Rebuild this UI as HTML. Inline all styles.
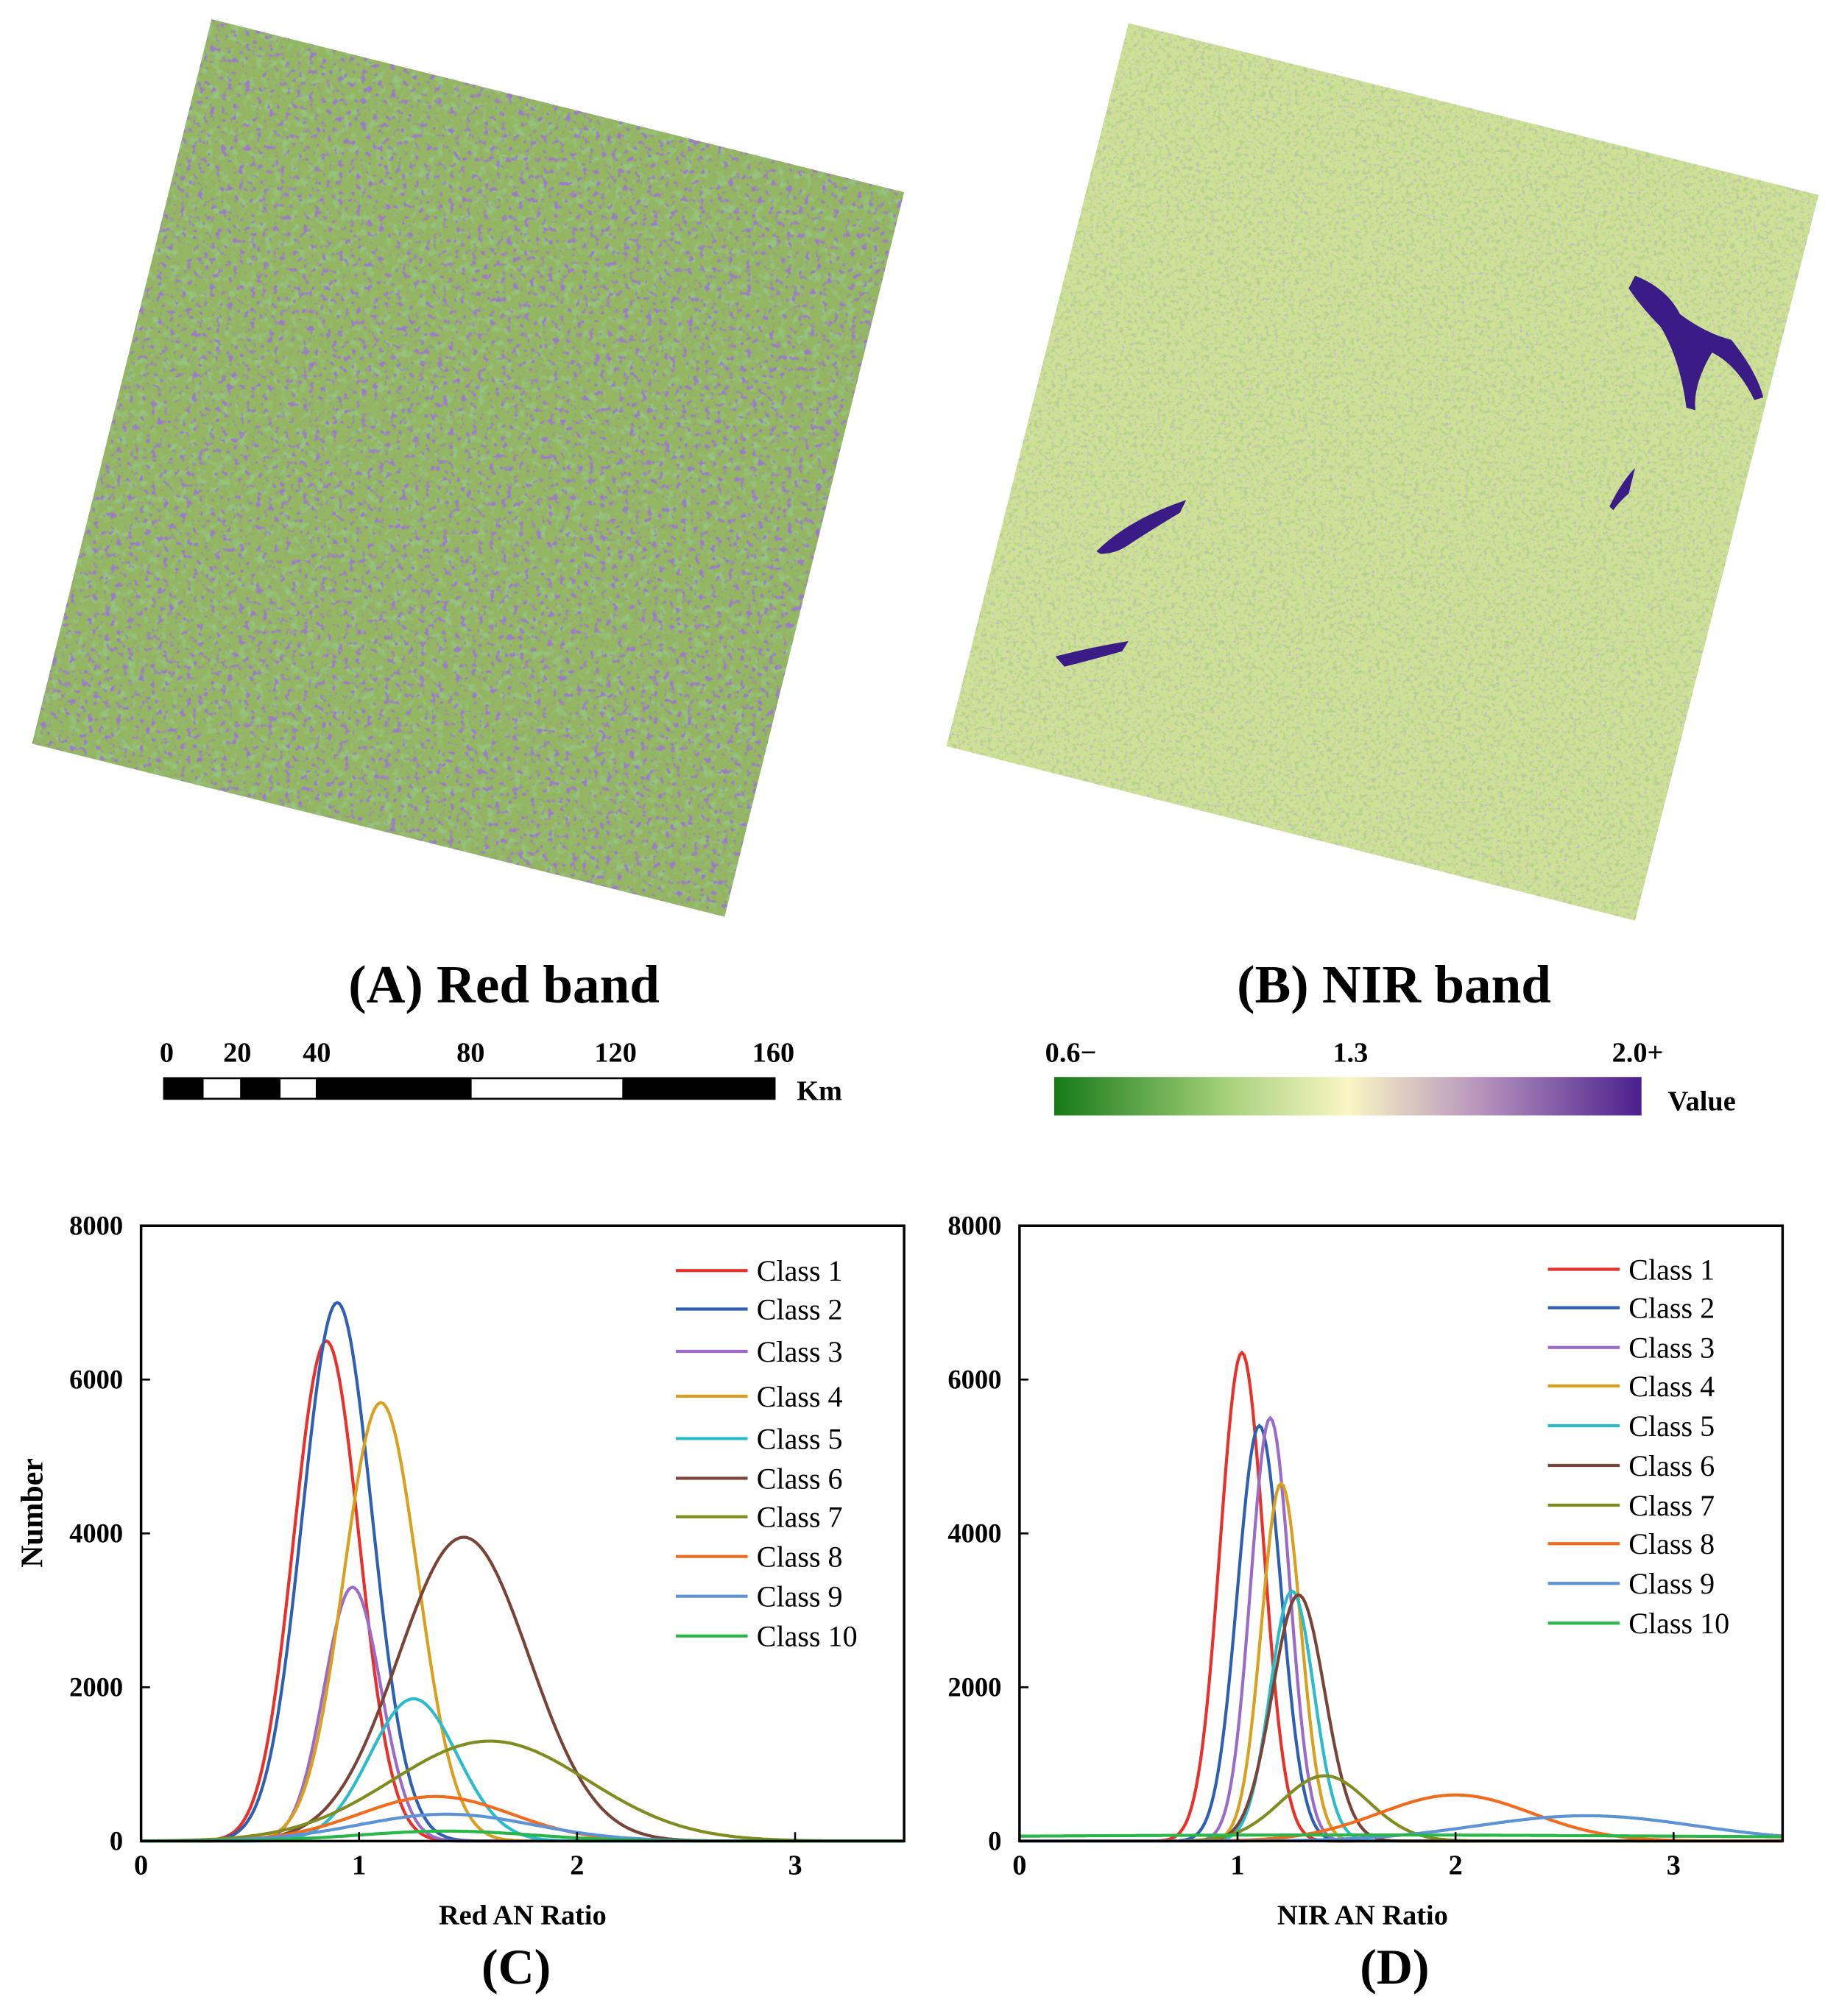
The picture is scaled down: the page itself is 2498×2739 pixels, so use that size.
<!DOCTYPE html>
<html><head><meta charset="utf-8"><style>
html,body{margin:0;padding:0;background:#fff;}
svg{display:block;font-family:"Liberation Serif",serif;}
</style></head><body>
<svg id="s" width="2498" height="2739" viewBox="0 0 1434 1572.4" preserveAspectRatio="none" xmlns="http://www.w3.org/2000/svg">
<defs>
<clipPath id="ca"><polygon points="165,15 705,150 565,715 25,580"/></clipPath>
<clipPath id="cb"><polygon points="880,18 1418,152 1275,718 738,582"/></clipPath>
<filter id="na" x="0" y="0" width="100%" height="100%">
<feTurbulence type="fractalNoise" baseFrequency="0.22" numOctaves="2" seed="3"/>
<feColorMatrix type="matrix" values="0 0 0 0 0.33  0 0 0 0 0.2  0 0 0 0 0.58  6 0 0 0 -3.4"/>
</filter>
<filter id="na2" x="0" y="0" width="100%" height="100%">
<feTurbulence type="fractalNoise" baseFrequency="0.15" numOctaves="2" seed="5"/>
<feColorMatrix type="matrix" values="0 0 0 0 0.3  0 0 0 0 0.55  0 0 0 0 0.2  4 0 0 0 -2.0"/>
</filter>
<filter id="nb" x="0" y="0" width="100%" height="100%">
<feTurbulence type="fractalNoise" baseFrequency="0.3" numOctaves="2" seed="7"/>
<feColorMatrix type="matrix" values="0 0 0 0 0.45  0 0 0 0 0.65  0 0 0 0 0.25  4 0 0 0 -2.0"/>
</filter>
<filter id="nb2" x="0" y="0" width="100%" height="100%">
<feTurbulence type="fractalNoise" baseFrequency="0.4" numOctaves="2" seed="11"/>
<feColorMatrix type="matrix" values="0 0 0 0 0.55  0 0 0 0 0.45  0 0 0 0 0.65  5 0 0 0 -3.1"/>
</filter>
<linearGradient id="cg" x1="0" x2="1" y1="0" y2="0">
<stop offset="0" stop-color="#167a16"/>
<stop offset="0.3" stop-color="#a9d27e"/>
<stop offset="0.5" stop-color="#f9f6c4"/>
<stop offset="0.72" stop-color="#b896be"/>
<stop offset="1" stop-color="#4a1f8e"/>
</linearGradient>
</defs>
<g clip-path="url(#ca)">
<rect x="20" y="10" width="690" height="710" fill="#94b562"/>
<rect x="20" y="10" width="690" height="710" filter="url(#na2)"/>
<rect x="20" y="10" width="690" height="710" filter="url(#na)"/>
</g>
<g clip-path="url(#cb)">
<rect x="735" y="15" width="690" height="710" fill="#cfe197"/>
<rect x="735" y="15" width="690" height="710" filter="url(#nb)"/>
<rect x="735" y="15" width="690" height="710" filter="url(#nb2)"/>
<path d="M1275,215 Q1300,225 1310,245 Q1330,260 1350,265 Q1370,290 1375,310 L1368,312 Q1355,285 1335,275 Q1320,300 1322,320 L1315,318 Q1310,280 1295,255 Q1280,240 1270,225Z" fill="#3b1c86"/>
<path d="M855,430 Q880,405 925,390 L920,400 Q895,415 880,425 Q870,432 858,432Z" fill="#3b1c86"/>
<path d="M823,512 Q850,505 880,500 L875,508 Q850,515 830,520Z" fill="#3b1c86"/>
<path d="M1255,395 Q1265,375 1275,365 L1270,385 Q1262,392 1258,398Z" fill="#3b1c86"/>
</g>
<g font-weight="bold" text-anchor="middle" fill="#000">
<text x="393" y="782" font-size="42">(A) Red band</text>
<text x="1087" y="782" font-size="42">(B) NIR band</text>
<g font-size="22">
<text x="130" y="828">0</text><text x="185" y="828">20</text><text x="247" y="828">40</text>
<text x="367" y="828">80</text><text x="480" y="828">120</text><text x="603" y="828">160</text>
<text x="835" y="828">0.6−</text><text x="1053" y="828">1.3</text><text x="1277" y="828">2.0+</text>
<text x="639" y="858">Km</text><text x="1327" y="866">Value</text>
</g>
</g>
<g stroke="#000" stroke-width="1.5">
<rect x="128" y="841" width="476" height="16" fill="#fff"/>
<rect x="128" y="841" width="30" height="16" fill="#000"/>
<rect x="188" y="841" width="30" height="16" fill="#000"/>
<rect x="247" y="841" width="120" height="16" fill="#000"/>
<rect x="486" y="841" width="118" height="16" fill="#000"/>
</g>
<rect x="822" y="840" width="458" height="30" fill="url(#cg)"/>
<g id="charts"></g>
</svg>
<script>
var ns="http://www.w3.org/2000/svg",G=document.getElementById("charts");
function el(t,a,txt){var e=document.createElementNS(ns,t);for(var k in a)e.setAttribute(k,a[k]);if(txt!=null)e.textContent=txt;G.appendChild(e);return e;}
var cols=["#e8312b","#2f5fb3","#9b6bc8","#d9a020","#2bbccc","#7a4338","#7f8c1e","#f26b1d","#5b93d6","#28b84a"];
function chart(x0,x1,y0,y1,curves,legX,legY,xlab,lab,labX){
 var sx=(x1-x0)/3.5,sy=(y1-y0)/8000;
 curves.forEach(function(c,i){var d="";for(var v=0;v<=3.5;v+=0.01){var y=c[0]*Math.exp(-Math.pow((v-c[1])/c[2],2)/2)+(c[3]||0);if(y>8000)y=8000;d+=(d?"L":"M")+(x0+v*sx).toFixed(1)+","+(y1-y*sy).toFixed(1);}
  el("path",{d:d,fill:"none",stroke:cols[i],"stroke-width":2.4});});
 el("rect",{x:x0,y:y0,width:x1-x0,height:y1-y0,fill:"none",stroke:"#000","stroke-width":2});
 for(var t=0;t<=3;t++){var x=x0+t*sx;el("line",{x1:x,x2:x,y1:y1,y2:y1-7,stroke:"#000","stroke-width":1.5});el("text",{x:x,y:y1+26,"font-size":22,"font-weight":"bold","text-anchor":"middle"},t);}
 for(var t=0;t<=8000;t+=2000){var y=y1-t*sy;el("line",{x1:x0,x2:x0+7,y1:y,y2:y,stroke:"#000","stroke-width":1.5});el("text",{x:x0-14,y:y+7,"font-size":21,"font-weight":"bold","text-anchor":"end"},t);}
 for(var i=0;i<10;i++){var y=legY[i];el("line",{x1:legX,x2:legX+56,y1:y,y2:y,stroke:cols[i],"stroke-width":2.4});el("text",{x:legX+63,y:y+8,"font-size":23},"Class "+(i+1));}
 el("text",{x:(x0+x1)/2-(labX||0),y:1501,"font-size":22,"font-weight":"bold","text-anchor":"middle"},xlab);
 el("text",{x:(x0+x1)/2-5,y:1547,"font-size":39,"font-weight":"bold","text-anchor":"middle"},lab);
}
chart(110,705,956,1436,[[6500,0.85,0.15],[7000,0.9,0.16],[3300,0.97,0.13],[5700,1.1,0.17],[1850,1.25,0.2],[3950,1.48,0.3],[1300,1.6,0.45],[580,1.35,0.35],[350,1.4,0.4],[130,1.4,0.4]],
 527,[991,1021,1054,1089,1122,1153,1183,1214,1245,1276],"Red AN Ratio","(C)");
chart(795,1390,956,1436,[[6350,1.02,0.1],[5400,1.1,0.1],[5500,1.15,0.09],[4650,1.2,0.09],[3250,1.25,0.1],[3200,1.28,0.12],[850,1.4,0.2],[600,2.0,0.35],[330,2.6,0.5],[40,1.5,1.5,40]],
 1207,[990,1020,1051,1081,1112,1143,1174,1204,1235,1266],"NIR AN Ratio","(D)",30);
el("text",{x:0,y:0,"font-size":24,"font-weight":"bold","text-anchor":"middle",transform:"translate(33,1180) rotate(-90)"},"Number");
</script>
</body></html>
